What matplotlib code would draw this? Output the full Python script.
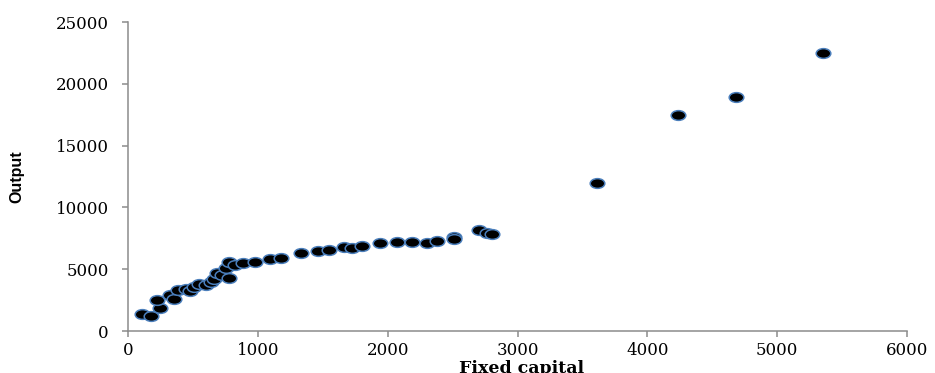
import matplotlib
matplotlib.use("Agg")
import matplotlib.pyplot as plt
from matplotlib.path import Path
from matplotlib.transforms import Affine2D

# fixed capital vs output, one point per unit
fixed_capital = [108, 177, 247, 223, 324, 354, 385, 447, 478, 508, 547, 601,
                 639, 663, 686, 724, 778, 755, 778, 824, 886, 978, 1094, 1176,
                 1330, 1466, 1551, 1666, 1723, 1800, 1941, 2070, 2186, 2301,
                 2378, 2512, 2512, 2704, 2766, 2804, 3613, 4237, 4684, 5354]
output = [1375, 1214, 1861, 2508, 2912, 2589, 3317, 3398, 3236, 3560, 3802, 3721,
          3964, 4207, 4692, 4530, 4288, 5097, 5582, 5339, 5501, 5606, 5825, 5930,
          6310, 6472, 6577, 6771, 6690, 6852, 7095, 7224, 7176, 7095,
          7281, 7605, 7443, 8171, 7952, 7847, 11973, 17475, 18930, 22490]

x_ticks = [0, 1000, 2000, 3000, 4000, 5000, 6000]
y_ticks = [0, 5000, 10000, 15000, 20000, 25000]

# flattened circle for the markers
ellipse = Path.unit_circle().transformed(Affine2D().scale(1.5, 1.0))

fig = plt.figure(figsize=(9.35, 3.73), dpi=100)
ax = fig.add_axes([0.137, 0.1126, 0.833, 0.8284])

ax.plot(fixed_capital, output, linestyle="none", marker=ellipse, markersize=10.5,
        markerfacecolor="black", markeredgecolor="#4a7ebb", markeredgewidth=1.1)

ax.set_xlim(0, 6000)
ax.set_ylim(0, 25000)
ax.set_xticks(x_ticks)
ax.set_yticks(y_ticks)
ax.set_xticklabels([str(t) for t in x_ticks], family="DejaVu Serif", fontsize=12)
ax.set_yticklabels([str(t) for t in y_ticks], family="DejaVu Serif", fontsize=12)

for side in ["top", "right"]:
    ax.spines[side].set_visible(False)
for side in ["left", "bottom"]:
    ax.spines[side].set_color("#8c8c8c")
    ax.spines[side].set_linewidth(1.1)
ax.tick_params(axis="both", direction="out", length=4, width=1.1, color="#8c8c8c",
               labelcolor="black")
ax.tick_params(axis="y", pad=10)
ax.tick_params(axis="x", pad=4)

ax.set_xlabel("Fixed capital", family="DejaVu Serif", fontweight="bold", fontsize=12.5)
ax.xaxis.set_label_coords(0.505, -0.093)
ax.set_ylabel("Output", family="Liberation Sans", fontweight="bold", fontsize=11.5)
ax.yaxis.set_label_coords(-0.133, 0.5)

fig.savefig("out.png", dpi=100)
